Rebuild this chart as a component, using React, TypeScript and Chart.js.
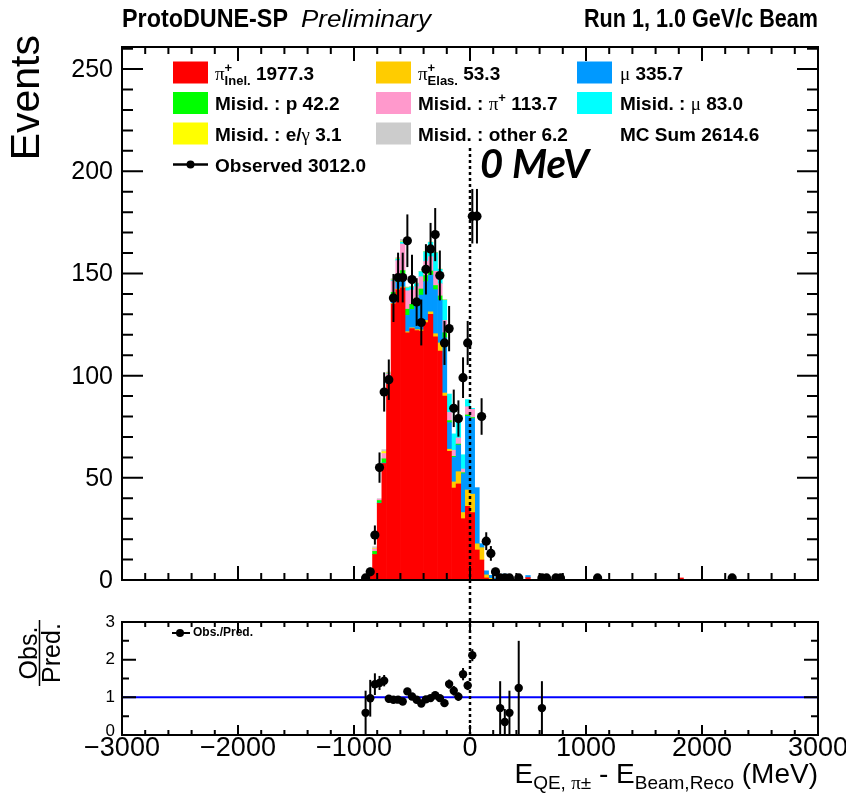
import React, { useEffect, useRef } from "react";
import { Chart, registerables } from "chart.js";

Chart.register(...registerables);

// Histogram binning (MeV) and axis ranges
const X_MIN = -3000;
const X_MAX = 3000;
const BIN_WIDTH = 40;
const EVENTS_MAX = 260.8;
const RATIO_MAX = 3;

// Simulated (MC) bin centres, MeV, and the stacked components per bin
const mcBinCenters = [-900, -860, -820, -780, -740, -700, -660, -620, -580, -540, -500, -460, -420, -380, -340, -300, -260, -220, -180, -140, -100, -60, -20, 20, 60, 100, 140, 180, 220, 260, 300, 340, 420, 500, 620, 1820];
const piInelastic = [1.5, 3.2, 12.5, 37.5, 57, 96, 135, 142, 143, 121, 123, 122, 121.7, 126, 130, 119, 112, 90, 63, 45, 47, 30, 36.04, 33, 14.7, 9.8, 1, 0.3, 0, 0.5, 1, 0.7, 0, 1.2, 0.7, 1];
const piElastic = [0, 0, 0, 0, 0, 0, 0.3, 0.3, 0.4, 0.5, 0.4, 0.5, 0.7, 1, 1.2, 1.5, 4, 1.5, 1, 3, 6, 3, 8, 9, 3, 6, 1.5, 0.5, 0, 0, 0, 0, 0, 0, 0, 0];
const muon = [0, 0, 0, 0.2, 0.3, 0.8, 3, 3.5, 4, 8, 9, 13, 17, 19, 18, 21.6, 21, 27, 13, 12, 13, 19, 36.04, 37, 27.5, 2, 2, 1.5, 1, 0.9, 1.9, 1, 0.8, 1, 0.7, 0];
const misidProton = [0, 0.3, 1.5, 1.2, 2, 1.5, 2.5, 3, 4, 3, 2.5, 2.5, 3, 3, 2, 2, 2, 2.5, 1, 0.5, 0.5, 0.5, 0.7, 0.5, 0, 0, 0, 0, 0, 0, 0, 0, 0, 0, 0, 0];
const misidPion = [0.2, 0.3, 1.2, 0.6, 2.6, 2.5, 5.5, 7.5, 13, 9, 7, 5.5, 6, 7, 7, 7, 6, 6, 4, 3, 3, 1.8, 4, 4, 0, 0, 0, 0, 0, 0, 0, 0, 0, 0, 0, 0];
const misidMuon = [0, 0, 0, 0, 0, 0.2, 0.5, 0.7, 1, 1.5, 1.5, 1.5, 2.5, 4.6, 7, 9, 7, 10, 9, 8, 8, 7, 3.5, 0.5, 0, 0, 0, 0, 0, 0, 0, 0, 0, 0, 0, 0];
const misidEGamma = [0, 0, 0.2, 0, 0.9, 0.3, 0.2, 0.2, 0.3, 0.2, 0.1, 0.1, 0.1, 0.1, 0.1, 0.1, 0.1, 0.1, 0, 0, 0, 0, 0, 0, 0, 0, 0, 0, 0, 0, 0, 0, 0, 0, 0, 0];
const misidOther = [0, 0.3, 0.9, 0.3, 1.0, 0.5, 0.5, 0.6, 1.0, 0.2, 0.1, 0.3, 0, 0.1, 0.1, 0.1, 0.1, 0.1, 0, 0, 0, 0, 0, 0, 0, 0, 0, 0, 0, 0, 0, 0, 0, 0, 0, 0];

// Observed events per bin
const dataBinCenters = [-900, -860, -820, -780, -740, -700, -660, -620, -580, -540, -500, -460, -420, -380, -340, -300, -260, -220, -180, -140, -100, -60, -20, 20, 60, 100, 140, 180, 220, 260, 300, 340, 420, 620, 660, 740, 780, 1100, 2260];
const dataCounts = [1, 4, 22, 55, 92, 98, 138, 148, 148, 166, 147, 136, 126, 152, 162, 169, 149, 116, 123, 84, 79, 99, 116, 178, 178, 80, 19, 13, 4, 1, 1, 1, 1, 1, 1, 1, 1, 1, 1];

// Axis tick values
const eventsTicks = [0, 50, 100, 150, 200, 250];
const ratioTicks = [0, 1, 2, 3];
const energyTicks = [-3000, -2000, -1000, 0, 1000, 2000, 3000];

const SANS = '"Liberation Sans", Arial, sans-serif';
const SERIF = '"Liberation Serif", "Times New Roman", serif';

const NBINS = Math.round((X_MAX - X_MIN) / BIN_WIDTH);
const binOf = (c: number) => Math.floor((c - X_MIN) / BIN_WIDTH);
const binCenter = (i: number) => X_MIN + BIN_WIDTH * (i + 0.5);
const sum = (a: number[]) => a.reduce((s, v) => s + v, 0);
const fmt = (v: number) => v.toFixed(1);

function toHistogram(centers: number[], values: number[]) {
  const h = new Array(NBINS).fill(0);
  centers.forEach((c, i) => {
    h[binOf(c)] += values[i];
  });
  return h;
}

const components = [
  { label: "pi+ inelastic", values: piInelastic, color: "#ff0000" },
  { label: "pi+ elastic", values: piElastic, color: "#ffcc00" },
  { label: "mu", values: muon, color: "#0099ff" },
  { label: "misid p", values: misidProton, color: "#00ff00" },
  { label: "misid pi+", values: misidPion, color: "#ff99cc" },
  { label: "misid mu", values: misidMuon, color: "#00ffff" },
  { label: "misid e/gamma", values: misidEGamma, color: "#ffff00" },
  { label: "misid other", values: misidOther, color: "#cccccc" },
];

const mcHists = components.map((c) => toHistogram(mcBinCenters, c.values));
const mcTotal = new Array(NBINS).fill(0).map((_, i) => mcHists.reduce((s, h) => s + h[i], 0));

// Ratio of observed to predicted, with the observed Poisson error
const ratioPoints = dataBinCenters
  .map((c, i) => {
    const n = dataCounts[i];
    const mc = mcTotal[binOf(c)];
    if (!(mc > 0) || n <= 0) return null;
    return { x: c, y: n / mc, err: Math.sqrt(n) / mc };
  })
  .filter((p): p is { x: number; y: number; err: number } => p !== null && p.y <= RATIO_MAX);

type Part = { t?: string; sup?: string; sub?: string; font: string };

function partsWidth(ctx: CanvasRenderingContext2D, parts: Part[]) {
  let w = 0;
  for (const p of parts) {
    ctx.font = p.font;
    if (p.t !== undefined) w += ctx.measureText(p.t).width;
    else w += Math.max(ctx.measureText(p.sup || "").width, ctx.measureText(p.sub || "").width);
  }
  return w;
}

function drawParts(ctx: CanvasRenderingContext2D, x: number, y: number, parts: Part[], supDy = -8, subDy = 5) {
  let cx = x;
  ctx.textBaseline = "alphabetic";
  ctx.textAlign = "left";
  for (const p of parts) {
    ctx.font = p.font;
    if (p.t !== undefined) {
      ctx.fillText(p.t, cx, y);
      cx += ctx.measureText(p.t).width;
    } else {
      const w1 = p.sup ? ctx.measureText(p.sup).width : 0;
      const w2 = p.sub ? ctx.measureText(p.sub).width : 0;
      if (p.sup) ctx.fillText(p.sup, cx, y + supDy);
      if (p.sub) ctx.fillText(p.sub, cx, y + subDy);
      cx += Math.max(w1, w2);
    }
  }
}

// Text squeezed or stretched horizontally to span a given width
function drawSpan(ctx: CanvasRenderingContext2D, s: string, font: string, left: number, right: number, baseline: number) {
  ctx.save();
  ctx.font = font;
  ctx.textAlign = "left";
  ctx.textBaseline = "alphabetic";
  const w = ctx.measureText(s).width;
  ctx.translate(left, baseline);
  ctx.scale((right - left) / w, 1);
  ctx.fillText(s, 0, 0);
  ctx.restore();
}

function drawTicksX(ctx: CanvasRenderingContext2D, xs: any, y: number, dir: number, lenMaj: number, lenMin: number) {
  for (let v = X_MIN; v <= X_MAX; v += 200) {
    const len = v % 1000 === 0 ? lenMaj : lenMin;
    const x = xs.getPixelForValue(v);
    ctx.moveTo(x, y);
    ctx.lineTo(x, y + dir * len);
  }
}

function drawTicksY(ctx: CanvasRenderingContext2D, ys: any, x: number, dir: number, max: number, step: number, majorEvery: number, lenMaj: number, lenMin: number) {
  const n = Math.floor(max / step + 1e-9);
  for (let k = 0; k <= n; k++) {
    const v = k * step;
    const len = k % majorEvery === 0 ? lenMaj : lenMin;
    const y = ys.getPixelForValue(v);
    ctx.moveTo(x, y);
    ctx.lineTo(x + dir * len, y);
  }
}

const LB = `bold 19px ${SANS}`;
const LS = `bold 13px ${SANS}`;
const LG = `19px ${SERIF}`;

const legendRows = [72.5, 103, 133.5, 164.5];
const legendBoxX = [173, 376, 577];
const legendTextX = [215, 418, 620];

const legendEntries: { col: number; row: number; color: string | null; parts: Part[] }[] = [
  { col: 0, row: 0, color: components[0].color, parts: [{ t: "π", font: LG }, { sup: "+", sub: "Inel.", font: LS }, { t: " " + fmt(sum(piInelastic)), font: LB }] },
  { col: 1, row: 0, color: components[1].color, parts: [{ t: "π", font: LG }, { sup: "+", sub: "Elas.", font: LS }, { t: " " + fmt(sum(piElastic)), font: LB }] },
  { col: 2, row: 0, color: components[2].color, parts: [{ t: "μ", font: LG }, { t: " " + fmt(sum(muon)), font: LB }] },
  { col: 0, row: 1, color: components[3].color, parts: [{ t: "Misid. : p " + fmt(sum(misidProton)), font: LB }] },
  { col: 1, row: 1, color: components[4].color, parts: [{ t: "Misid. : ", font: LB }, { t: "π", font: LG }, { sup: "+", font: LS }, { t: " " + fmt(sum(misidPion)), font: LB }] },
  { col: 2, row: 1, color: components[5].color, parts: [{ t: "Misid. : ", font: LB }, { t: "μ", font: LG }, { t: " " + fmt(sum(misidMuon)), font: LB }] },
  { col: 0, row: 2, color: components[6].color, parts: [{ t: "Misid. : e/", font: LB }, { t: "γ", font: LG }, { t: " " + fmt(sum(misidEGamma)), font: LB }] },
  { col: 1, row: 2, color: components[7].color, parts: [{ t: "Misid. : other " + fmt(sum(misidOther)), font: LB }] },
  { col: 2, row: 2, color: null, parts: [{ t: "MC Sum " + fmt(sum(components.map((c) => sum(c.values)))), font: LB }] },
  { col: 0, row: 3, color: null, parts: [{ t: "Observed " + fmt(sum(dataCounts)), font: LB }] },
];

const mainDecor = {
  id: "mainDecor",
  afterDatasetsDraw(chart: any) {
    const { ctx, chartArea: a, scales } = chart;
    const xs = scales.x;
    const ys = scales.y;
    ctx.save();
    ctx.beginPath();
    ctx.rect(a.left, a.top, a.right - a.left, a.bottom - a.top);
    ctx.clip();
    ctx.strokeStyle = "#000";
    ctx.lineWidth = 2;
    dataBinCenters.forEach((c, i) => {
      const n = dataCounts[i];
      if (n <= 0) return;
      const e = Math.sqrt(n);
      const x = xs.getPixelForValue(c);
      ctx.beginPath();
      ctx.moveTo(x, ys.getPixelForValue(n - e));
      ctx.lineTo(x, ys.getPixelForValue(n + e));
      ctx.stroke();
    });
    ctx.restore();

    // reference line at zero
    ctx.save();
    const x0 = xs.getPixelForValue(0);
    ctx.strokeStyle = "#000";
    ctx.lineWidth = 2.5;
    ctx.setLineDash([3, 3]);
    ctx.beginPath();
    ctx.moveTo(x0, 148);
    ctx.lineTo(x0, chart.height);
    ctx.stroke();
    ctx.restore();
  },
  afterDraw(chart: any) {
    const { ctx, chartArea: a, scales } = chart;
    const xs = scales.x;
    const ys = scales.y;
    ctx.save();
    ctx.strokeStyle = "#000";
    ctx.fillStyle = "#000";
    ctx.lineWidth = 2;
    ctx.strokeRect(a.left, a.top, a.right - a.left, a.bottom - a.top);
    ctx.beginPath();
    drawTicksX(ctx, xs, a.bottom, -1, 14, 7);
    drawTicksX(ctx, xs, a.top, 1, 14, 7);
    drawTicksY(ctx, ys, a.left, 1, EVENTS_MAX, 10, 5, 21, 11);
    drawTicksY(ctx, ys, a.right, -1, EVENTS_MAX, 10, 5, 21, 11);
    ctx.stroke();

    // y tick labels
    ctx.font = `25px ${SANS}`;
    ctx.textAlign = "right";
    ctx.textBaseline = "middle";
    eventsTicks.forEach((v) => ctx.fillText(String(v), a.left - 9, ys.getPixelForValue(v) + 1));

    // y title
    ctx.save();
    ctx.translate(28, a.top - 12);
    ctx.rotate(-Math.PI / 2);
    ctx.font = `41px ${SANS}`;
    ctx.textAlign = "right";
    ctx.textBaseline = "middle";
    ctx.fillText("Events", 0, 0);
    ctx.restore();

    // header
    drawSpan(ctx, "ProtoDUNE-SP", `bold 25px ${SANS}`, a.left, 288, 27);
    drawSpan(ctx, "Preliminary", `italic 23px ${SANS}`, 301, 431, 27);
    drawSpan(ctx, "Run 1, 1.0 GeV/c Beam", `bold 25px ${SANS}`, 584, a.right, 27);

    // legend
    legendEntries.forEach((e) => {
      const yc = legendRows[e.row];
      if (e.color) {
        ctx.fillStyle = e.color;
        ctx.fillRect(legendBoxX[e.col], yc - 11, 35, 22);
      }
      ctx.fillStyle = "#000";
      drawParts(ctx, legendTextX[e.col], yc + 7, e.parts);
    });
    // observed marker symbol
    const yo = legendRows[3];
    ctx.beginPath();
    ctx.lineWidth = 2.5;
    ctx.moveTo(173, yo);
    ctx.lineTo(208, yo);
    ctx.stroke();
    ctx.beginPath();
    ctx.arc(190.5, yo, 4, 0, Math.PI * 2);
    ctx.fill();

    // annotation
    ctx.font = `italic bold 40px Lato, ${SANS}`;
    ctx.textAlign = "left";
    ctx.textBaseline = "alphabetic";
    ctx.fillText("0 MeV", 480, 178);
    ctx.restore();
  },
};

const ratioDecor = {
  id: "ratioDecor",
  afterDatasetsDraw(chart: any) {
    const { ctx, chartArea: a, scales } = chart;
    const xs = scales.x;
    const ys = scales.y;
    ctx.save();
    ctx.beginPath();
    ctx.rect(a.left, a.top, a.right - a.left, a.bottom - a.top);
    ctx.clip();
    ctx.strokeStyle = "#000";
    ctx.lineWidth = 2;
    ratioPoints.forEach((p) => {
      const x = xs.getPixelForValue(p.x);
      ctx.beginPath();
      ctx.moveTo(x, ys.getPixelForValue(p.y - p.err));
      ctx.lineTo(x, ys.getPixelForValue(p.y + p.err));
      ctx.stroke();
    });
    ctx.restore();

    ctx.save();
    const x0 = xs.getPixelForValue(0);
    ctx.strokeStyle = "#000";
    ctx.lineWidth = 2.5;
    ctx.setLineDash([3, 3]);
    ctx.beginPath();
    ctx.moveTo(x0, 0);
    ctx.lineTo(x0, a.bottom);
    ctx.stroke();
    ctx.restore();
  },
  afterDraw(chart: any) {
    const { ctx, chartArea: a, scales } = chart;
    const xs = scales.x;
    const ys = scales.y;
    ctx.save();
    ctx.strokeStyle = "#000";
    ctx.fillStyle = "#000";
    ctx.lineWidth = 2;
    ctx.strokeRect(a.left, a.top, a.right - a.left, a.bottom - a.top);
    ctx.beginPath();
    drawTicksX(ctx, xs, a.bottom, -1, 10, 5);
    drawTicksX(ctx, xs, a.top, 1, 10, 5);
    drawTicksY(ctx, ys, a.left, 1, RATIO_MAX, 0.5, 2, 14, 7);
    drawTicksY(ctx, ys, a.right, -1, RATIO_MAX, 0.5, 2, 14, 7);
    ctx.stroke();

    ctx.font = `17px ${SANS}`;
    ctx.textAlign = "right";
    ctx.textBaseline = "middle";
    ratioTicks.forEach((v) => ctx.fillText(String(v), a.left - 7, ys.getPixelForValue(v) - (v === 0 ? 4 : 0)));

    ctx.font = `27px ${SANS}`;
    ctx.textAlign = "center";
    ctx.textBaseline = "middle";
    energyTicks.forEach((v) => ctx.fillText(v < 0 ? "\u2212" + Math.abs(v) : String(v), xs.getPixelForValue(v), a.bottom + 14));

    // x title, right-aligned to the frame
    const E = `28px ${SANS}`;
    const S = `19px ${SANS}`;
    const SS = `19px ${SERIF}`;
    const title: Part[] = [
      { t: "E", font: E },
      { sub: "QE, ", font: S },
      { sub: "π", font: SS },
      { sub: "±", font: S },
      { t: " - E", font: E },
      { sub: "Beam,Reco", font: S },
      { t: " (MeV)", font: E },
    ];
    const w = partsWidth(ctx, title);
    drawParts(ctx, a.right - w, 183, title, -10, 6);

    // y title: Obs. over Pred.
    ctx.save();
    ctx.translate(0, 53);
    ctx.rotate(-Math.PI / 2);
    ctx.font = `25px ${SANS}`;
    ctx.textAlign = "center";
    ctx.textBaseline = "alphabetic";
    ctx.fillText("Obs.", 0, 37);
    ctx.fillText("Pred.", 0, 60);
    ctx.lineWidth = 1.5;
    ctx.beginPath();
    ctx.moveTo(-33, 39.5);
    ctx.lineTo(33, 39.5);
    ctx.stroke();
    ctx.restore();

    // in-panel legend
    ctx.lineWidth = 2;
    ctx.beginPath();
    ctx.moveTo(172, 33);
    ctx.lineTo(190, 33);
    ctx.stroke();
    ctx.beginPath();
    ctx.arc(180, 33, 4, 0, Math.PI * 2);
    ctx.fill();
    ctx.font = `bold 12px ${SANS}`;
    ctx.textAlign = "left";
    ctx.textBaseline = "middle";
    ctx.fillText("Obs./Pred.", 193, 33);
    ctx.restore();
  },
};

export default function App() {
  const mainRef = useRef<HTMLCanvasElement | null>(null);
  const ratioRef = useRef<HTMLCanvasElement | null>(null);

  useEffect(() => {
    if (!mainRef.current || !ratioRef.current) return;

    const barSets = components.map((c, k) => ({
      type: "bar" as const,
      label: c.label,
      data: mcHists[k].map((v, i) => ({ x: binCenter(i), y: v > 0 ? v : null })),
      backgroundColor: c.color,
      borderWidth: 0,
      barPercentage: 1,
      categoryPercentage: 1,
      stack: "mc",
      xAxisID: "x",
      yAxisID: "y",
    }));

    const observed = {
      type: "scatter" as const,
      label: "Observed",
      data: dataBinCenters.map((c, i) => ({ x: c, y: dataCounts[i] })).filter((p) => p.y > 0),
      backgroundColor: "#000",
      pointBackgroundColor: "#000",
      pointRadius: 4.6,
      pointBorderWidth: 0,
      xAxisID: "x",
      yAxisID: "yObs",
      order: -1,
    };

    const main = new Chart(mainRef.current, {
      type: "bar",
      data: { datasets: [...barSets, observed] as any },
      options: {
        responsive: false,
        animation: false,
        devicePixelRatio: 1,
        events: [],
        layout: { padding: { left: 122, right: 28, top: 47, bottom: 20 } },
        plugins: { legend: { display: false }, tooltip: { enabled: false } },
        scales: {
          x: { type: "linear", min: X_MIN, max: X_MAX, offset: false, display: false },
          y: { type: "linear", min: 0, max: EVENTS_MAX, stacked: true, display: false },
          yObs: { type: "linear", min: 0, max: EVENTS_MAX, display: false },
        },
      } as any,
      plugins: [mainDecor],
    });

    const ratio = new Chart(ratioRef.current, {
      type: "scatter",
      data: {
        datasets: [
          {
            type: "scatter",
            label: "Obs./Pred.",
            data: ratioPoints.map((p) => ({ x: p.x, y: p.y })),
            pointBackgroundColor: "#000",
            backgroundColor: "#000",
            pointRadius: 4.2,
            pointBorderWidth: 0,
            order: -1,
          },
          {
            type: "line",
            label: "unity",
            data: [
              { x: X_MIN, y: 1 },
              { x: X_MAX, y: 1 },
            ],
            borderColor: "#0000ff",
            borderWidth: 2,
            pointRadius: 0,
            showLine: true,
          },
        ] as any,
      },
      options: {
        responsive: false,
        animation: false,
        devicePixelRatio: 1,
        events: [],
        layout: { padding: { left: 122, right: 28, top: 22, bottom: 62 } },
        plugins: { legend: { display: false }, tooltip: { enabled: false } },
        scales: {
          x: { type: "linear", min: X_MIN, max: X_MAX, offset: false, display: false },
          y: { type: "linear", min: 0, max: RATIO_MAX, display: false },
        },
      } as any,
      plugins: [ratioDecor],
    });

    const fonts = [`bold 19px ${SANS}`, `19px ${SERIF}`, `italic 23px ${SANS}`, `italic bold 40px Lato`, `25px ${SANS}`];
    Promise.all(fonts.map((f) => (document as any).fonts.load(f)))
      .then(() => {
        main.draw();
        ratio.draw();
      })
      .catch(() => {});

    return () => {
      main.destroy();
      ratio.destroy();
    };
  }, []);

  return (
    <div style={{ position: "absolute", left: 0, top: 0, width: 846, height: 797, background: "#fff" }}>
      <canvas ref={mainRef} width={846} height={600} style={{ position: "absolute", left: 0, top: 0, width: 846, height: 600 }} />
      <canvas ref={ratioRef} width={846} height={197} style={{ position: "absolute", left: 0, top: 600, width: 846, height: 197 }} />
    </div>
  );
}
